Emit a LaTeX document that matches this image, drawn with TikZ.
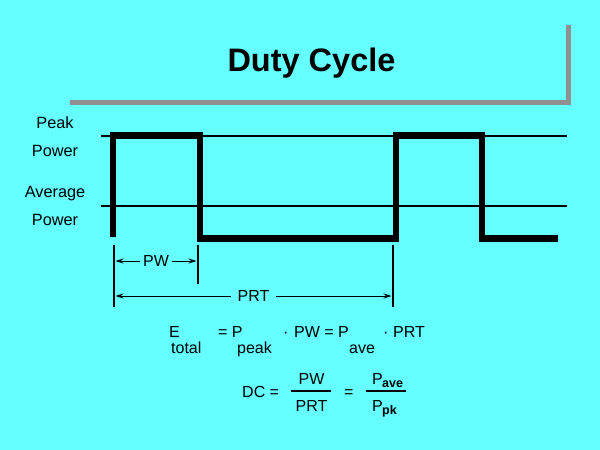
\documentclass[tikz,border=0pt]{standalone}
\usepackage{fontspec}
\setmainfont{Liberation Sans}
\usetikzlibrary{arrows.meta}
\definecolor{bg}{HTML}{66FFFF}
\definecolor{shadow}{HTML}{909090}
\tikzset{
  lbl/.style={font=\fontsize{16.3}{18}\selectfont, inner sep=0pt, anchor=base},
  eq/.style={font=\fontsize{16}{18}\selectfont, inner sep=0pt, anchor=base west},
  sub/.style={font=\fontsize{16}{18}\selectfont, inner sep=0pt, anchor=base west},
  bsub/.style={font=\fontsize{12.5}{14}\selectfont\bfseries, inner sep=0pt, anchor=base west},
  wave/.style={line width=6.5pt, line join=miter},
  refline/.style={line width=2pt},
  tick/.style={line width=2pt},
  dim/.style={line width=1pt, {Stealth[length=8pt,width=5pt]}-{Stealth[length=8pt,width=5pt]}},
  dimlbl/.style={font=\fontsize{16}{18}\selectfont, fill=bg, inner ysep=1pt},
  fracbar/.style={line width=1.8pt}
}
\begin{document}
\begin{tikzpicture}[x=1pt,y=-1pt]
\fill[bg] (0,0) rectangle (600,450);
\useasboundingbox (0,0) rectangle (600,450);
% title shadow
\fill[shadow] (566,25) rectangle (571,105);
\fill[shadow] (70,100) rectangle (571,105);
\node[font=\fontsize{32.5}{36}\selectfont\bfseries, inner sep=0pt, anchor=base] (title) at (311.5,71.7) {Duty Cycle};
% axis labels
\node[lbl] (peak) at (55,128) {Peak};
\node[lbl] (power1) at (55,156) {Power};
\node[lbl] (avg) at (55,197) {Average};
\node[lbl] (power2) at (55,225) {Power};
% reference lines
\draw[refline] (101,136) -- (567,136);
\draw[refline] (101,206) -- (567,206);
% waveform
\draw[wave] (113,237) -- (113,135.5) -- (200,135.5) -- (200,238.5) -- (396,238.5) -- (396,135.5) -- (482,135.5) -- (482,238.5) -- (558,238.5);
% ticks
\coordinate (t1a) at (114,245); \coordinate (t1b) at (114,307);
\coordinate (t2a) at (198,245); \coordinate (t2b) at (198,284);
\coordinate (t3a) at (393,245); \coordinate (t3b) at (393,307);
\draw[tick] (t1a) -- (t1b);
\draw[line width=1.2pt] (t2a) -- (t2b);
\draw[tick] (t3a) -- (t3b);
% dimension arrows
\coordinate (pwL) at (115.5,261); \coordinate (pwR) at (196.5,261);
\coordinate (prtL) at (115.5,296); \coordinate (prtR) at (391.5,296);
\draw[dim] (pwL) -- (pwR) node[dimlbl, pos=0.5, inner xsep=3pt, xshift=0pt] (pw) {PW};
\draw[dim] (prtL) -- (prtR) node[dimlbl, pos=0.5, inner xsep=7pt, xshift=0pt] (prt) {PRT};
% energy equation
\node[eq] (E) at (169,337) {E};
\node[sub] (tot) at (171,353) {total};
\node[eq] (eqP) at (218,337) {= P};
\node[sub] (pk1) at (237,353) {peak};
\node[eq] (dot1) at (283,337) {·};
\node[eq] (pweqp) at (294,337) {PW = P};
\node[sub] (ave1) at (349,353) {ave};
\node[eq] (dot2) at (383,337) {·};
\node[eq] (prt2) at (393,337) {PRT};
% duty cycle equation
\node[eq] (dc) at (242,397) {DC =};
\node[eq, anchor=base] (num1) at (311.5,384) {PW};
\draw[fracbar] (291,391) -- (331,391);
\node[eq, anchor=base] (den1) at (311.5,411) {PRT};
\node[eq] (eq2) at (344,397) {=};
\draw[fracbar] (366,391) -- (406,391);
\node[eq] (num2) at (372,384) {P};
\node[bsub] (ave2) at (382,387) {ave};
\node[eq] (den2) at (372,411) {P};
\node[bsub] (pk2) at (382,414) {pk};
\end{tikzpicture}
\end{document}
